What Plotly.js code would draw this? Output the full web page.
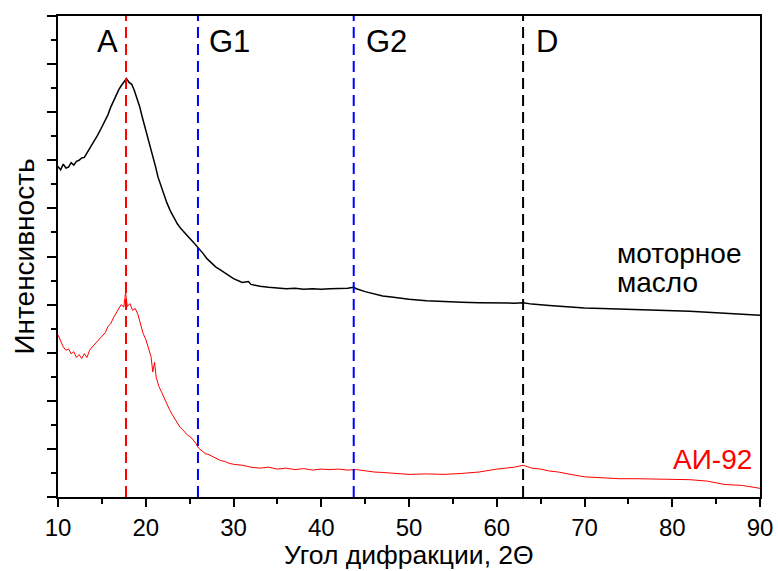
<!DOCTYPE html>
<html>
<head>
<meta charset="utf-8">
<script src="https://cdn.plot.ly/plotly-3.0.1.min.js"></script>
<style>html,body{margin:0;padding:0;background:#fff;}#chart{width:778px;height:571px;}</style>
</head>
<body>
<div id="chart"></div>
<script>
// Motor oil (black) diffraction pattern, intensity in arbitrary units
const oilAngle = [10.0,10.3,10.6,10.9,11.2,11.5,11.8,12.1,12.4,12.7,13.0,13.3,13.6,13.9,14.2,14.5,14.8,15.1,15.4,15.7,16.0,16.3,16.6,16.9,17.2,17.5,17.8,18.1,18.4,18.7,19.0,19.3,19.6,19.9,20.2,20.5,20.8,21.1,21.4,21.7,22.0,22.4,22.8,23.2,23.6,24.0,24.5,25.0,25.5,26.0,26.5,27.0,27.5,28.0,28.5,29.0,29.5,30.0,31.0,31.7,32.0,33.0,34.0,35.0,36.0,37.0,38.0,39.0,40.0,41.0,42.0,43.0,43.7,44.0,45.0,46.0,47.0,48.0,49.0,50.0,52.0,54.0,56.0,58.0,60.0,62.0,63.0,64.0,66.0,68.0,70.0,72.0,74.0,76.0,78.0,80.0,82.0,84.0,86.0,88.0,90.0];
const oilInt = [6.87,6.80,6.92,6.84,6.86,6.95,6.90,6.98,7.00,7.05,7.06,7.15,7.22,7.32,7.42,7.52,7.62,7.72,7.82,7.95,8.10,8.22,8.36,8.46,8.55,8.62,8.70,8.62,8.58,8.45,8.30,8.12,7.90,7.70,7.50,7.30,7.12,6.88,6.65,6.48,6.30,6.12,5.95,5.80,5.68,5.58,5.47,5.38,5.28,5.18,5.07,4.95,4.86,4.78,4.72,4.66,4.60,4.54,4.46,4.48,4.42,4.38,4.36,4.35,4.33,4.34,4.32,4.33,4.32,4.33,4.33,4.34,4.36,4.33,4.27,4.22,4.18,4.16,4.13,4.11,4.08,4.06,4.05,4.04,4.03,4.03,4.04,4.01,3.98,3.95,3.93,3.92,3.91,3.90,3.88,3.87,3.86,3.84,3.82,3.80,3.78];

// Gasoline AI-92 (red) diffraction pattern
const fuelAngle = [10.0,10.3,10.6,10.9,11.2,11.5,11.8,12.1,12.4,12.7,13.0,13.3,13.6,13.9,14.2,14.5,14.8,15.1,15.4,15.7,16.0,16.3,16.6,16.9,17.2,17.5,17.7,17.9,18.2,18.5,18.8,19.1,19.4,19.7,20.0,20.3,20.6,20.8,21.0,21.2,21.5,21.8,22.1,22.4,22.7,23.0,23.3,23.6,23.9,24.2,24.5,24.8,25.1,25.4,25.7,26.0,26.4,26.8,27.2,27.6,28.0,28.5,29.0,29.5,30.0,31.0,32.0,33.0,34.0,35.0,36.0,37.0,38.0,39.0,40.0,41.0,42.0,43.0,44.0,45.0,46.0,47.0,48.0,49.0,50.0,52.0,54.0,56.0,58.0,60.0,61.0,62.0,63.0,64.0,65.0,66.0,67.0,68.0,69.0,70.0,72.0,74.0,76.0,78.0,80.0,82.0,84.0,85.0,86.0,88.0,90.0];
const fuelInt = [3.37,3.25,3.12,3.05,3.08,2.98,3.02,2.90,2.96,2.88,2.98,2.90,3.05,3.12,3.18,3.22,3.30,3.36,3.42,3.55,3.60,3.72,3.82,3.92,4.00,3.95,4.25,3.96,4.02,3.88,3.92,3.80,3.62,3.40,3.28,3.10,2.92,2.60,2.80,2.48,2.30,2.18,2.05,1.95,1.82,1.72,1.62,1.55,1.45,1.40,1.33,1.28,1.25,1.18,1.12,1.02,0.95,0.90,0.88,0.84,0.80,0.76,0.74,0.70,0.68,0.66,0.62,0.60,0.62,0.58,0.60,0.57,0.59,0.56,0.58,0.57,0.58,0.56,0.57,0.54,0.52,0.51,0.50,0.48,0.47,0.48,0.47,0.49,0.52,0.58,0.60,0.62,0.66,0.60,0.58,0.54,0.52,0.48,0.45,0.42,0.40,0.38,0.38,0.37,0.36,0.36,0.33,0.30,0.26,0.24,0.18];

// Reference peak positions (dashed lines)
const peakNames = ["A","G1","G2","D"];
const peakPos = [17.75, 25.95, 43.7, 63.0];
const peakColors = ["#ff0000","#0000ff","#0000ff","#000000"];
const peakLabelX = [15.6, 29.6, 47.4, 65.7];

const xTickVals = [10,20,30,40,50,60,70,80,90];
const xTitle = "Угол дифракции, 2Θ";
const yTitle = "Интенсивность";

const FONT = "Liberation Sans, Arial, sans-serif";

const traces = [
  {x: oilAngle, y: oilInt, type: "scatter", mode: "lines", line: {color: "#000000", width: 1.5}, name: "моторное масло", showlegend: false},
  {x: fuelAngle, y: fuelInt, type: "scatter", mode: "lines", line: {color: "#ff0000", width: 1}, name: "АИ-92", showlegend: false}
];

const shapes = peakPos.map((p, i) => ({
  type: "line", xref: "x", yref: "paper", x0: p, x1: p, y0: 0, y1: 1,
  line: {color: peakColors[i], width: 2, dash: "11px,6px"}
}));

const annotations = peakNames.map((n, i) => ({
  x: peakLabelX[i], y: 9.48, xref: "x", yref: "y", text: n, showarrow: false,
  font: {family: FONT, size: 31, color: "#000"}, xanchor: "center", yanchor: "middle"
}));
annotations.push(
  {x: 73.5, y: 5.07, xref: "x", yref: "y", text: "моторное", showarrow: false, font: {family: FONT, size: 28, color: "#000"}, xanchor: "left", yanchor: "middle"},
  {x: 73.5, y: 4.45, xref: "x", yref: "y", text: "масло", showarrow: false, font: {family: FONT, size: 28, color: "#000"}, xanchor: "left", yanchor: "middle"},
  {x: 84.6, y: 0.77, xref: "x", yref: "y", text: "АИ-92", showarrow: false, font: {family: FONT, size: 28, color: "#ff0000"}, xanchor: "center", yanchor: "middle"},
  // x-axis title placed explicitly below the tick labels
  {x: 0.5, y: -0.1535, xref: "paper", yref: "paper", text: xTitle, showarrow: false, borderpad: 0, font: {family: FONT, size: 26.5, color: "#000"}, xanchor: "center", yanchor: "bottom"}
);

const layout = {
  width: 778, height: 571,
  margin: {l: 58, r: 18, t: 16, b: 74},
  paper_bgcolor: "#fff", plot_bgcolor: "#fff",
  font: {family: FONT, color: "#000"},
  showlegend: false,
  xaxis: {
    range: [10, 90], tickvals: xTickVals, ticks: "outside", ticklen: 8, tickwidth: 2, tickcolor: "#000",
    showline: true, linewidth: 2, linecolor: "#000", mirror: true, showgrid: false, zeroline: false,
    minor: {dtick: 5, ticks: "outside", ticklen: 5, tickwidth: 2, tickcolor: "#000", showgrid: false},
    tickfont: {family: FONT, size: 24, color: "#000"}
  },
  yaxis: {
    range: [0, 10], dtick: 1, showticklabels: false, ticks: "outside", ticklen: 9, tickwidth: 2, tickcolor: "#000",
    showline: true, linewidth: 2, linecolor: "#000", mirror: true, showgrid: false, zeroline: false,
    minor: {dtick: 0.5, ticks: "outside", ticklen: 5, tickwidth: 2, tickcolor: "#000", showgrid: false},
    title: {text: yTitle, font: {family: FONT, size: 28, color: "#000"}, standoff: 4}
  },
  shapes: shapes,
  annotations: annotations
};

Plotly.newPlot("chart", traces, layout, {displayModeBar: false, staticPlot: true});
</script>
</body>
</html>
